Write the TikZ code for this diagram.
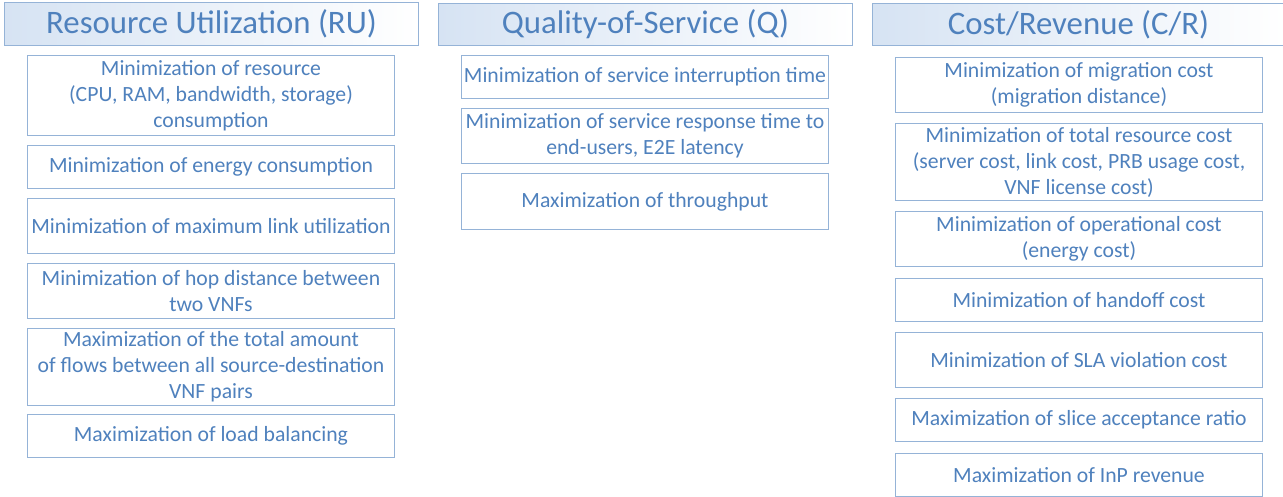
\documentclass[tikz,border=0pt]{standalone}
\usepackage{fontspec}
\setmainfont{Carlito}
\usepackage{tikz}
\usetikzlibrary{positioning}
\definecolor{textblue}{RGB}{79,129,189}
\definecolor{edgeblue}{RGB}{149,179,215}
\definecolor{fillblue}{RGB}{214,227,243}
\tikzset{
  category/.style={
    % The shape:
    rectangle,
    anchor=north west,
    inner sep=0pt,
    % The border:
    line width=1pt,
    draw=edgeblue,
    % The filling:
    left color=fillblue,right color=white,
    % The text:
    text=textblue,
    font=\fontsize{32.8}{36}\selectfont},
  objective/.style={
    % The shape:
    rectangle,
    anchor=north west,
    inner sep=0pt,
    minimum width=367pt,
    % The rest
    line width=1pt,draw=edgeblue,fill=white,
    text=textblue,align=center,
    font=\fontsize{21.7}{26}\selectfont}
}

\begin{document}
\begin{tikzpicture}[x=1pt,y=-1pt]
  \useasboundingbox (0,0) rectangle (1283,497);

  % categories
  \node (ru) [category,minimum width=414pt,minimum height=43pt] at (4,2) {Resource Utilization (RU)};
  \node (qos)[category,minimum width=414pt,minimum height=42pt] at (438,3) {Quality-of-Service (Q)};
  \node (cr) [category,minimum width=412pt,minimum height=42pt] at (872,3) {Cost/Revenue (C/R)};

  % resource utilization
  \node (ru1) [objective,minimum height=80pt] at (27,55)
    {Minimization of resource\\(CPU, RAM, bandwidth, storage)\\consumption};
  \node (ru2) [objective,minimum height=43pt] at (27,145) {Minimization of energy consumption};
  \node (ru3) [objective,minimum height=55pt] at (27,198) {Minimization of maximum link utilization};
  \node (ru4) [objective,minimum height=55pt] at (27,263) {Minimization of hop distance between\\two VNFs};
  \node (ru5) [objective,minimum height=77pt] at (27,328)
    {Maximization of the total amount\\of flows between all source-destination\\VNF pairs};
  \node (ru6) [objective,minimum height=43pt] at (27,414) {Maximization of load balancing};

  % quality of service
  \node (q1) [objective,minimum height=43pt] at (461,55) {Minimization of service interruption time};
  \node (q2) [objective,minimum height=55pt] at (461,108) {Minimization of service response time to\\end-users, E2E latency};
  \node (q3) [objective,minimum height=56pt] at (461,173) {Maximization of throughput};

  % cost / revenue
  \node (cr1) [objective,minimum height=55pt] at (895,57) {Minimization of migration cost\\(migration distance)};
  \node (cr2) [objective,minimum height=77pt] at (895,123)
    {Minimization of total resource cost\\(server cost, link cost, PRB usage cost,\\VNF license cost)};
  \node (cr3) [objective,minimum height=55pt] at (895,211) {Minimization of operational cost\\(energy cost)};
  \node (cr4) [objective,minimum height=43pt] at (895,278) {Minimization of handoff cost};
  \node (cr5) [objective,minimum height=55pt] at (895,332) {Minimization of SLA violation cost};
  \node (cr6) [objective,minimum height=43pt] at (895,398) {Maximization of slice acceptance ratio};
  \node (cr7) [objective,minimum height=43pt] at (895,453) {Maximization of InP revenue};
\end{tikzpicture}
\end{document}
